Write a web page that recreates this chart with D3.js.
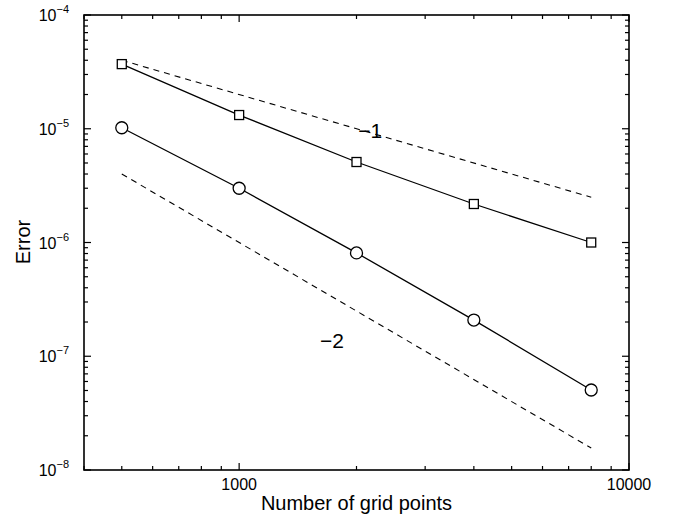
<!DOCTYPE html>
<html>
<head>
<meta charset="utf-8">
<script src="https://cdn.jsdelivr.net/npm/d3@7"></script>
<style>
  body { margin: 0; background: #fff; }
  svg { display: block; font-family: 'Liberation Sans', Arial, Helvetica, sans-serif; }
</style>
</head>
<body>
<div id="chart"></div>
<script>
// grid sizes and errors
const gridPoints = [500, 1000, 2000, 4000, 8000];
const errSquare = [3.7e-5, 1.32e-5, 5.1e-6, 2.18e-6, 1.0e-6];
const errCircle = [1.02e-5, 3.0e-6, 8.1e-7, 2.08e-7, 5.05e-8];
// reference slopes (dashed)
const refX = [500, 8000];
const refSlope1 = [4.0e-5, 2.5e-6];
const refSlope2 = [4.0e-6, 1.56e-8];
const xTickLabels = [1000, 10000];
const yTickLabels = [-4, -5, -6, -7, -8];

const W = 673, H = 518;
const M = { top: 15, right: 44, bottom: 48, left: 84 };
const iW = W - M.left - M.right, iH = H - M.top - M.bottom;

const x = d3.scaleLog().domain([400, 10000]).range([0, iW]);
const y = d3.scaleLog().domain([1e-8, 1e-4]).range([iH, 0]);

const svg = d3.select('#chart').append('svg').attr('width', W).attr('height', H);
const g = svg.append('g').attr('transform', `translate(${M.left},${M.top})`);

// ── frame ticks (inside, all four sides) ─────────────
const xTicks = [];
for (let d = 100; d <= 10000; d *= 10)
     for (let k = 1; k < 10; k++) { const v = d * k; if (v >= 400 && v <= 10000) xTicks.push(v); }
const yTicks = [];
for (let e = -8; e < -4; e++)
     for (let k = 1; k < 10; k++) yTicks.push(k * Math.pow(10, e));
yTicks.push(1e-4);

const isMajor = v => Math.abs(Math.log10(v) - Math.round(Math.log10(v))) < 1e-9;
const tickG = g.append('g').attr('stroke', '#000').attr('stroke-width', 1.2);
xTicks.forEach(v => {
     const px = x(v), len = isMajor(v) ? 7 : 4;
     tickG.append('line').attr('x1', px).attr('x2', px).attr('y1', iH).attr('y2', iH - len);
     tickG.append('line').attr('x1', px).attr('x2', px).attr('y1', 0).attr('y2', len);
});
yTicks.forEach(v => {
     const py = y(v), len = isMajor(v) ? 7 : 4;
     tickG.append('line').attr('y1', py).attr('y2', py).attr('x1', 0).attr('x2', len);
     tickG.append('line').attr('y1', py).attr('y2', py).attr('x1', iW).attr('x2', iW - len);
});

g.append('rect').attr('width', iW).attr('height', iH)
     .attr('fill', 'none').attr('stroke', '#000').attr('stroke-width', 1.6);

// ── tick labels ──────────────────────────────────────
g.selectAll('.xlbl').data(xTickLabels).join('text')
     .attr('x', d => x(d)).attr('y', iH + 20)
     .attr('text-anchor', 'middle').attr('font-size', 16).text(d => d);

const yl = g.selectAll('.ylbl').data(yTickLabels).join('text')
     .attr('x', -15).attr('y', d => y(Math.pow(10, d)) + 6)
     .attr('text-anchor', 'end').attr('font-size', 16);
yl.append('tspan').text('10');
yl.append('tspan').attr('dy', -8).attr('font-size', 11).text(d => '\u2212' + Math.abs(d));

// ── axis titles ──────────────────────────────────────
svg.append('text').attr('x', M.left + iW / 2).attr('y', 510)
     .attr('text-anchor', 'middle').attr('font-size', 20).text('Number of grid points');
svg.append('text').attr('transform', `translate(30,242) rotate(-90)`)
     .attr('text-anchor', 'middle').attr('font-size', 20).text('Error');

// ── dashed reference lines ───────────────────────────
const line = d3.line().x(d => x(d[0])).y(d => y(d[1]));
[refSlope1, refSlope2].forEach(arr => {
     g.append('path').datum(refX.map((v, i) => [v, arr[i]]))
          .attr('d', line).attr('fill', 'none').attr('stroke', '#000')
          .attr('stroke-width', 1.1).attr('stroke-dasharray', '6,5');
});

// ── data series ──────────────────────────────────────
[errSquare, errCircle].forEach(arr => {
     g.append('path').datum(gridPoints.map((v, i) => [v, arr[i]]))
          .attr('d', line).attr('fill', 'none').attr('stroke', '#000').attr('stroke-width', 1.3);
});
g.selectAll('.sq').data(gridPoints).join('rect')
     .attr('x', (d) => x(d) - 4.5).attr('y', (d, i) => y(errSquare[i]) - 4.5)
     .attr('width', 9).attr('height', 9)
     .attr('fill', '#fff').attr('stroke', '#000').attr('stroke-width', 1.3);
g.selectAll('.ci').data(gridPoints).join('circle')
     .attr('cx', d => x(d)).attr('cy', (d, i) => y(errCircle[i])).attr('r', 6)
     .attr('fill', '#fff').attr('stroke', '#000').attr('stroke-width', 1.3);

// ── slope annotations ────────────────────────────────
g.append('text').attr('x', x(2170)).attr('y', y(1.0e-5) + 9)
     .attr('font-size', 21).attr('text-anchor', 'middle').text('\u22121');
g.append('text').attr('x', x(1730)).attr('y', y(1.39e-7) + 8)
     .attr('font-size', 21).attr('text-anchor', 'middle').text('\u22122');
</script>
</body>
</html>
